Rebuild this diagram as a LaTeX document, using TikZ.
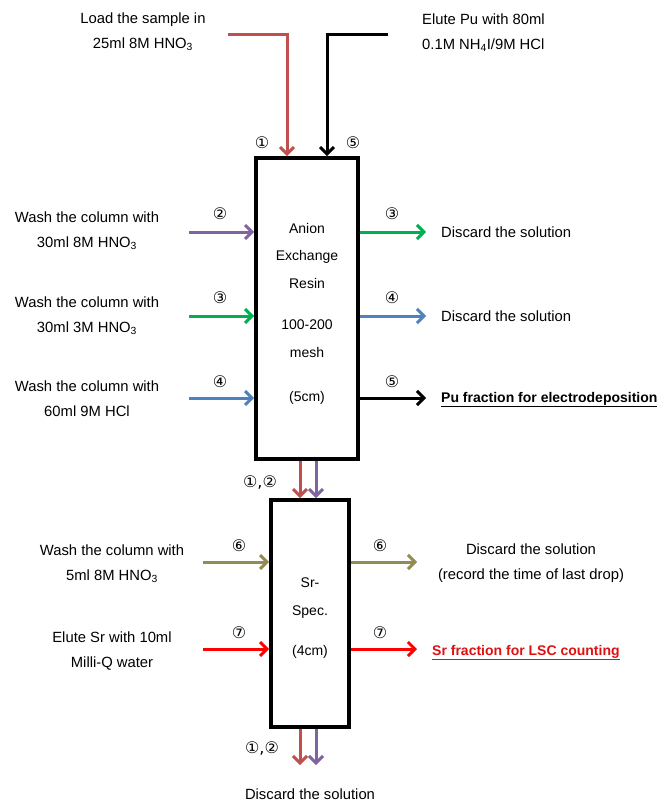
\documentclass[tikz,border=0pt]{standalone}
\usepackage{fontspec}
\setmainfont{Liberation Sans}
\newfontfamily\circfont{DejaVu Sans}
\usepackage{tikz}
\usetikzlibrary{arrows.meta,positioning}
\definecolor{loadred}{HTML}{C0504D}
\definecolor{washpurple}{HTML}{8064A2}
\definecolor{washgreen}{HTML}{00B050}
\definecolor{washblue}{HTML}{4F81BD}
\definecolor{washolive}{HTML}{948A54}
\definecolor{srred}{HTML}{FF0000}
\definecolor{srtext}{HTML}{E01010}

\begin{document}
\begin{tikzpicture}[x=1pt,y=-1pt,every node/.style={font=\fontsize{14.8}{25}\selectfont,align=center,inner sep=0pt},
 flow/.style={line width=3pt,-{Straight Barb[length=7pt,width=14pt]}},
 column/.style={draw,line width=3.6pt},
 coltext/.style={font=\fontsize{14}{27.5}\selectfont},
 num/.style={font=\circfont\fontsize{16}{16}\selectfont},
 result/.style={anchor=base west,font=\bfseries\fontsize{14}{16}\selectfont}]
\useasboundingbox (0,0) rectangle (665,802);
\node[column,minimum width=102pt,minimum height=301pt] (anion) at (307,308.5) {};
\node[coltext] (aniontxt) at (307,314) {Anion\\Exchange\\Resin\\[14pt]100-200\\mesh\\[17pt](5cm)};
\node[column,minimum width=78pt,minimum height=227pt] (sr) at (310,613.5) {};
\node[coltext] (srtxt) at (310,618) {Sr-\\Spec.\\[12.5pt](4cm)};

\node (load) at (143,32) {Load the sample in\\25ml 8M HNO\textsubscript{3}};
\node[anchor=west,align=left] (elute) at (422,33) {Elute Pu with 80ml\\0.1M NH\textsubscript{4}I/9M HCl};
\coordinate (in1) at (228,35);
\coordinate (in5) at (388,35);
\draw[flow,loadred] (in1) -| ([xshift=-20pt]anion.north);
\draw[flow] (in5) -| ([xshift=20pt]anion.north);
\node[num] (n1) at (262,143) {①};
\node[num] (n5) at (353,143) {⑤};

\node (wash2) at (87,230.5) {Wash the column with\\30ml 8M HNO\textsubscript{3}};
\node (wash3) at (87,316) {Wash the column with\\30ml 3M HNO\textsubscript{3}};
\node (wash4) at (87,398.5) {Wash the column with\\60ml 9M HCl};
\coordinate (in2) at (189,232);
\coordinate (in3) at (189,316);
\coordinate (in4) at (189,398);
\draw[flow,washpurple] (in2) -- (in2 -| anion.west);
\draw[flow,washgreen] (in3) -- (in3 -| anion.west);
\draw[flow,washblue] (in4) -- (in4 -| anion.west);
\node[num] (n2l) at (220,214) {②};
\node[num] (n3l) at (220,298) {③};
\node[num] (n4l) at (220,382) {④};

\coordinate (out3) at (426,232);
\coordinate (out4) at (426,316);
\coordinate (out5) at (426,398);
\draw[flow,washgreen] (out3 -| anion.east) -- (out3);
\draw[flow,washblue] (out4 -| anion.east) -- (out4);
\draw[flow] (out5 -| anion.east) -- (out5);
\node[num] (n3r) at (392,214) {③};
\node[num] (n4r) at (392,298) {④};
\node[num] (n5r) at (392,382) {⑤};
\node[anchor=west] (disc3) at (441,232) {Discard the solution};
\node[anchor=west] (disc4) at (441,316) {Discard the solution};
\node[result] (pufrac) at (441,402) {\underline{Pu fraction for electrodeposition}};

\draw[flow,loadred] ([xshift=-10pt]sr.north |- anion.south) -- ([xshift=-10pt]sr.north);
\draw[flow,washpurple] ([xshift=6pt]sr.north |- anion.south) -- ([xshift=6pt]sr.north);
\node[num] (n12a) at (260,483) {①,②};

\node (wash6) at (112,563.5) {Wash the column with\\5ml 8M HNO\textsubscript{3}};
\node (elutesr) at (112,651) {Elute Sr with 10ml\\Milli-Q water};
\coordinate (in6) at (203,562);
\coordinate (in7) at (203,649);
\draw[flow,washolive] (in6) -- (in6 -| sr.west);
\draw[flow,srred] (in7) -- (in7 -| sr.west);
\node[num] (n6l) at (239,546) {⑥};
\node[num] (n7l) at (239,633) {⑦};

\coordinate (out6) at (417,562);
\coordinate (out7) at (417,649);
\draw[flow,washolive] (out6 -| sr.east) -- (out6);
\draw[flow,srred] (out7 -| sr.east) -- (out7);
\node[num] (n6r) at (380,546) {⑥};
\node[num] (n7r) at (380,633) {⑦};
\node (disc6) at (531,563.5) {Discard the solution\\(record the time of last drop)};
\node[result,text=srtext] (srfrac) at (432,655) {\underline{Sr fraction for LSC counting}};

\coordinate (drain1) at (300,765);
\coordinate (drain2) at (316,765);
\draw[flow,loadred] ([xshift=-10pt]sr.south) -- (drain1);
\draw[flow,washpurple] ([xshift=6pt]sr.south) -- (drain2);
\node[num] (n12b) at (262,749) {①,②};
\node (drain) at (310,794) {Discard the solution};
\end{tikzpicture}
\end{document}
